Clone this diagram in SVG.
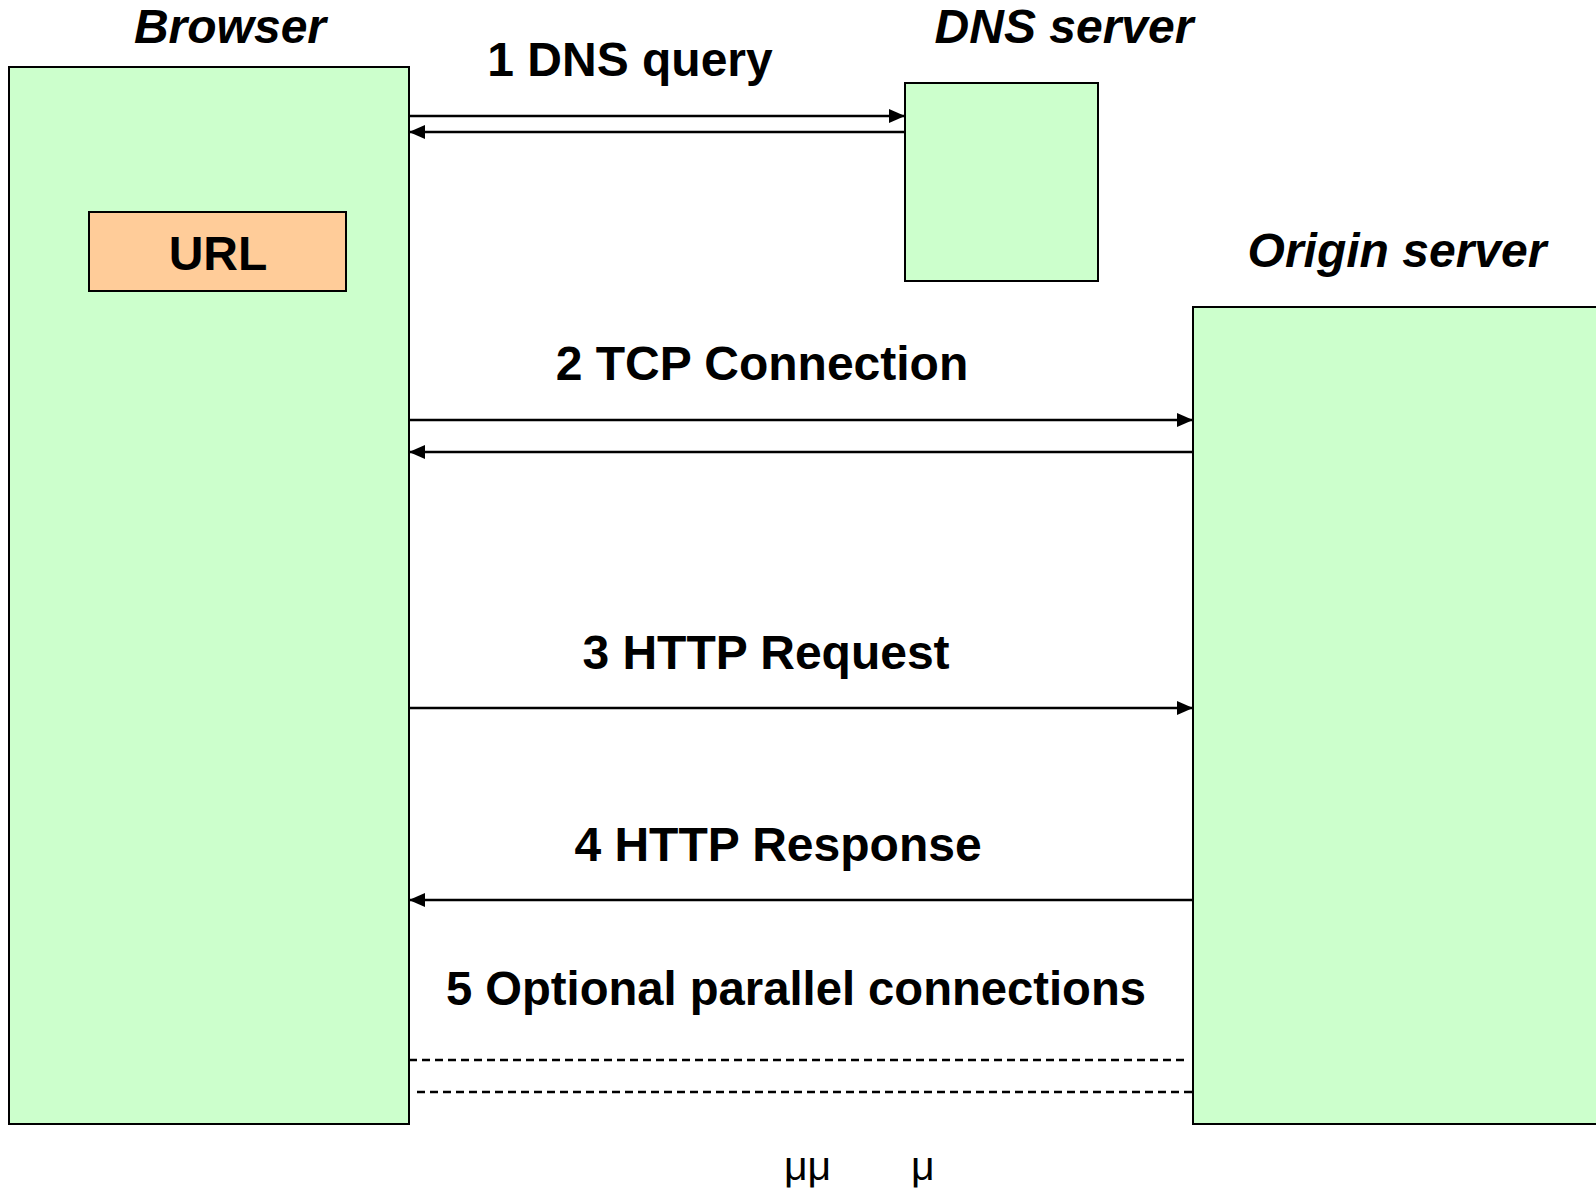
<svg xmlns="http://www.w3.org/2000/svg" width="1596" height="1188" viewBox="0 0 1596 1188">
<style>
.box{fill:#CCFFCC;stroke:#000;stroke-width:2}
.url{fill:#FFCC99;stroke:#000;stroke-width:2}
.title{font-family:"Liberation Sans",Arial,sans-serif;font-weight:bold;font-style:italic;font-size:48px;fill:#000}
.lbl{font-family:"Liberation Sans",Arial,sans-serif;font-weight:bold;font-size:48px;fill:#000}
.mu{font-family:"Liberation Sans",Arial,sans-serif;font-size:41px;fill:#000}
.ln{stroke:#000;stroke-width:2.5;fill:none}
.dash{stroke:#000;stroke-width:2.5;fill:none;stroke-dasharray:8 5}
</style>
<defs>
<marker id="ah" markerUnits="userSpaceOnUse" markerWidth="16" markerHeight="14" refX="16" refY="7" orient="auto">
<path d="M0,0 L16,7 L0,14 Z" fill="#000"/>
</marker>
</defs>
<rect width="1596" height="1188" fill="#fff"/>
<g id="browser">
<rect class="box" x="9" y="67" width="400" height="1057"/>
<text class="title" x="230" y="43" text-anchor="middle">Browser</text>
</g>
<g id="url">
<rect class="url" x="89" y="212" width="257" height="79"/>
<text class="lbl" x="218" y="270" text-anchor="middle">URL</text>
</g>
<g id="dns">
<rect class="box" x="905" y="83" width="193" height="198"/>
<text class="title" x="1064" y="43" text-anchor="middle">DNS server</text>
</g>
<g id="origin">
<rect class="box" x="1193" y="307" width="410" height="817"/>
<text class="title" x="1397" y="267" text-anchor="middle">Origin server</text>
</g>
<g id="connectors">
<line class="ln" x1="409" y1="116" x2="905" y2="116" marker-end="url(#ah)"/>
<line class="ln" x1="905" y1="132" x2="409" y2="132" marker-end="url(#ah)"/>
<line class="ln" x1="409" y1="420" x2="1193" y2="420" marker-end="url(#ah)"/>
<line class="ln" x1="1193" y1="452" x2="409" y2="452" marker-end="url(#ah)"/>
<line class="ln" x1="409" y1="708" x2="1193" y2="708" marker-end="url(#ah)"/>
<line class="ln" x1="1193" y1="900" x2="409" y2="900" marker-end="url(#ah)"/>
<line class="dash" x1="409" y1="1060" x2="1188" y2="1060"/>
<line class="dash" x1="417" y1="1092" x2="1193" y2="1092"/>
</g>
<g id="labels">
<text class="lbl" x="630" y="76" text-anchor="middle">1 DNS query</text>
<text class="lbl" x="762" y="380" text-anchor="middle">2 TCP Connection</text>
<text class="lbl" x="766" y="669" text-anchor="middle">3 HTTP Request</text>
<text class="lbl" x="778" y="861" text-anchor="middle">4 HTTP Response</text>
<text class="lbl" x="446" y="1005" textLength="700" lengthAdjust="spacingAndGlyphs">5 Optional parallel connections</text>
<text class="mu" x="784" y="1180">μμ</text>
<text class="mu" x="911" y="1180">μ</text>
</g>
</svg>
